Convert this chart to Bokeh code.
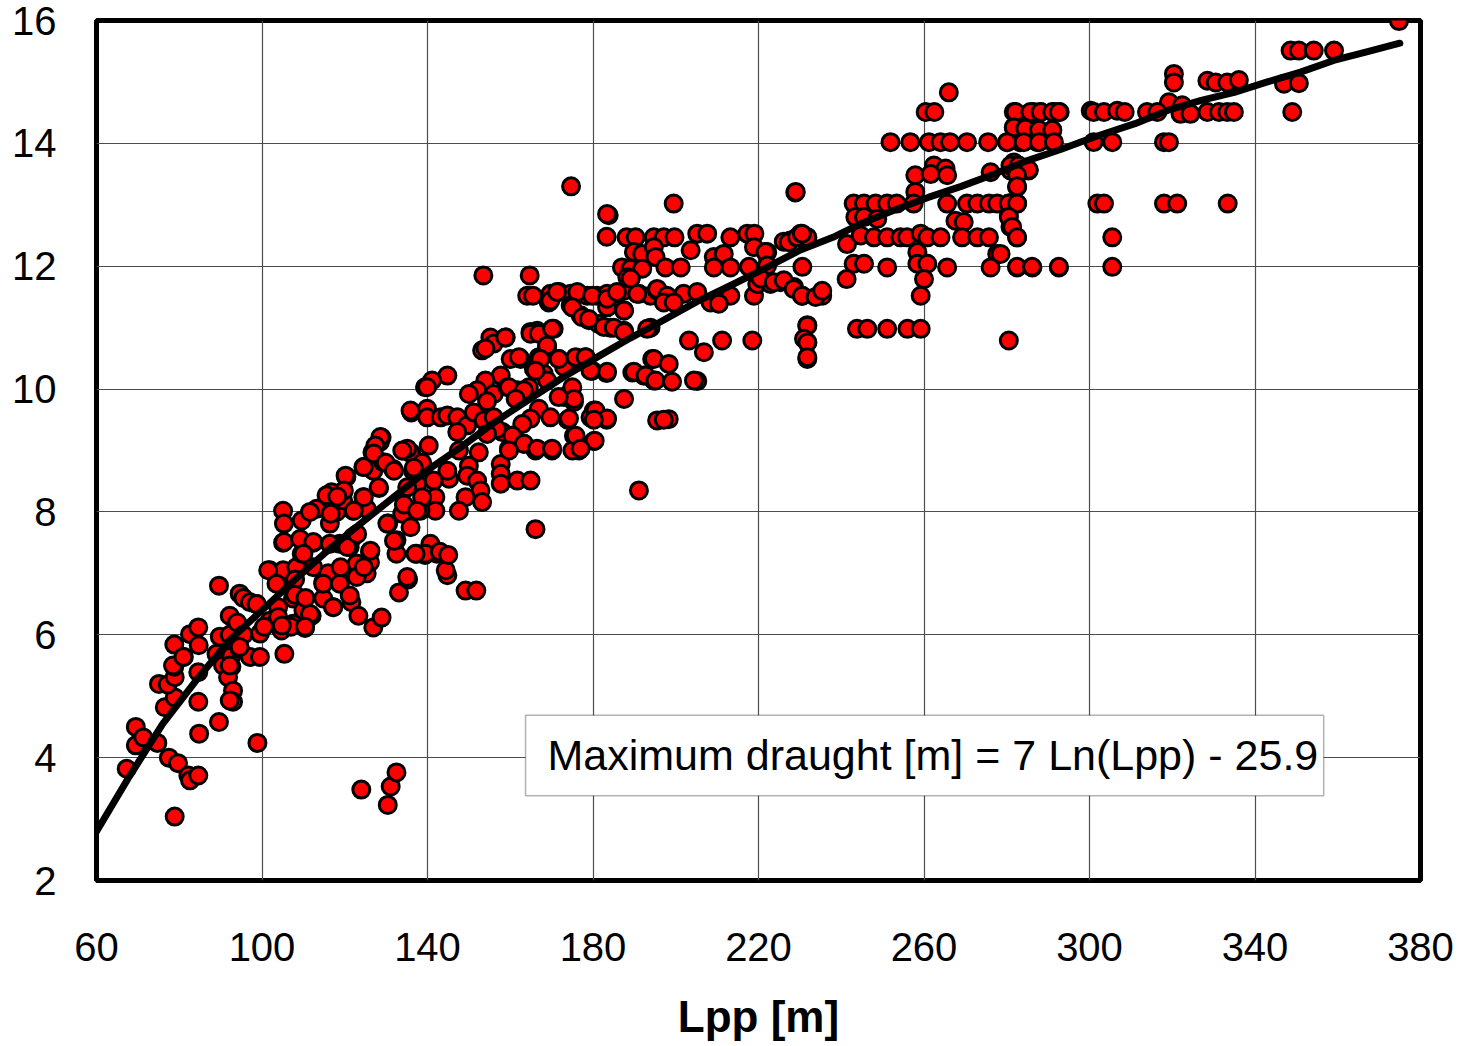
from bokeh.plotting import figure
from bokeh.models import Range1d, FixedTicker, Label, BoxAnnotation, ColumnDataSource
from bokeh.embed import file_html
from bokeh.resources import INLINE

# ---------------- data ----------------
x_ticks = [60, 100, 140, 180, 220, 260, 300, 340, 380]
y_ticks = [2, 4, 6, 8, 10, 12, 14, 16]
x_title = "Lpp [m]"
fit_text = "Maximum draught [m] = 7 Ln(Lpp) - 25.9"

# ships (Lpp [m], maximum draught [m]) grouped by region
ships_small = [
    (78.9, 3.04), (67.3, 3.82), (69.5, 4.5), (69.5, 4.2), (71.3, 4.33), (74.7, 4.24), (77.5, 4.0),
    (79.7, 3.91), (82.2, 3.71), (82.6, 3.63), (84.6, 3.71), (84.8, 4.39), (89.6, 4.58), (98.9, 4.24),
    (76.5, 4.82), (78.9, 4.98), (84.6, 4.91), (75.1, 5.2), (77.2, 5.19), (78.9, 5.31), (78.8, 5.48),
    (81.1, 5.64), (78.8, 5.84), (82.6, 6.01), (84.6, 6.12), (84.7, 5.83), (84.6, 5.39), (89.0, 5.69),
    (89.6, 6.80), (90.6, 5.5), (92.6, 5.48), (91.8, 5.31), (93.0, 5.09), (93.0, 4.91), (92.2, 4.93),
    (92.6, 5.66), (91.0, 5.93), (94.6, 5.77), (97.1, 5.64), (99.5, 5.64), (105.4, 5.69), (99.5, 6.02),
    (94.6, 6.67), (95.5, 6.6), (97.1, 6.53), (98.7, 6.5), (92.2, 6.31), (93.8, 6.18), (91.4, 5.91),
    (89.8, 5.97), (78.5, 5.5), (81.0, 5.64), (92.2, 6.0), (94.0, 6.2), (95.5, 6.0), (94.6, 5.8),
    (92.2, 5.5),
]
ships_low_outliers = [(124.0, 3.48), (130.4, 3.23), (131.1, 3.53), (132.5, 3.76)]
ships_100_140 = [
    (101.9, 6.23), (103.9, 6.45), (103.9, 6.29), (104.7, 6.07), (107.5, 6.18), (110.4, 6.11),
    (112.0, 6.31), (114.8, 6.59), (114.8, 6.86), (117.2, 6.45), (118.8, 6.86), (121.6, 6.53),
    (123.3, 6.31), (126.9, 6.12), (128.9, 6.28), (133.1, 6.69), (135.3, 6.9), (107.5, 6.59),
    (101.9, 7.05), (105.1, 7.05), (108.3, 7.1), (109.6, 7.32), (112.4, 7.1), (122.9, 7.16),
    (126.1, 7.35), (126.1, 7.18), (132.5, 7.32), (137.4, 7.32), (139.4, 7.3), (125.3, 7.0),
    (122.9, 6.94), (105.1, 7.5), (112.4, 7.5), (110.0, 6.4), (108.0, 6.9), (116.0, 7.0),
    (139.4, 10.03), (136.1, 9.62), (139.8, 9.6), (128.9, 9.21), (128.5, 9.14), (126.7, 8.97),
    (134.1, 9.0), (136.1, 8.95), (124.5, 8.73), (126.9, 8.67), (129.3, 8.81), (131.7, 8.70),
    (136.5, 8.67), (120.4, 8.57), (116.8, 8.32), (119.6, 8.32), (122.0, 8.02), (124.5, 8.24),
    (125.3, 8.05), (128.3, 8.39), (130.5, 7.81), (132.5, 7.54), (105.1, 8.02), (105.3, 7.81),
    (105.3, 7.51), (109.6, 7.86), (113.2, 8.05), (111.6, 8.0), (109.2, 7.56), (112.4, 7.51),
    (110.0, 7.32), (116.4, 7.81), (118.0, 8.0), (119.6, 8.19), (115.6, 8.27), (122.0, 7.59),
    (121.2, 7.43), (118.8, 7.48), (116.4, 7.48), (101.5, 7.05), (103.5, 6.83), (114.8, 6.83),
    (118.8, 6.83), (98.7, 6.5), (111.6, 6.34), (117.2, 6.45), (121.2, 6.64), (100.5, 6.13),
    (107.0, 6.13), (110.4, 6.13), (104.8, 6.15), (108.0, 6.65), (110.5, 6.6),
]
ships_115_200 = [
    (153.5, 11.85), (164.1, 11.52), (165.5, 11.52), (169.7, 11.55), (171.8, 11.58), (174.6, 11.55),
    (176.6, 11.55), (178.6, 11.52), (181.0, 11.52), (183.4, 11.55), (185.8, 11.55), (187.5, 11.6),
    (189.1, 11.8), (191.1, 11.55), (193.9, 11.52), (195.5, 11.6), (169.3, 11.41), (174.6, 11.36),
    (183.4, 11.33), (187.5, 11.28), (177.0, 11.2), (179.0, 11.12), (181.4, 11.06), (184.2, 11.0),
    (187.5, 10.95), (193.9, 11.0), (166.5, 10.95), (164.9, 10.93), (170.5, 10.98), (155.2, 10.84),
    (158.9, 10.84), (156.0, 10.74), (153.2, 10.63), (154.0, 10.66), (168.9, 10.68), (166.9, 10.52),
    (160.1, 10.49), (162.5, 10.49), (171.8, 10.49), (173.0, 10.36), (178.2, 10.52), (179.8, 10.3),
    (183.3, 10.26), (165.7, 10.33), (168.1, 10.25), (168.9, 10.14), (189.5, 10.27), (192.3, 10.22),
    (194.7, 10.14), (194.3, 10.49), (187.5, 9.84), (195.5, 9.49), (157.7, 10.22), (154.0, 10.14),
    (152.0, 9.98), (150.0, 9.92), (144.8, 10.22), (141.1, 10.14), (139.9, 10.03), (156.0, 9.92),
    (154.4, 9.8), (159.3, 10.03), (161.7, 9.98), (164.5, 10.03), (175.4, 9.79), (174.6, 9.95),
    (173.0, 9.87), (166.9, 9.68), (169.7, 9.54), (164.9, 9.52), (162.9, 9.43), (180.2, 9.65),
    (179.4, 9.54), (183.3, 9.5), (173.9, 9.5), (175.4, 9.24), (180.2, 9.15), (176.6, 9.0),
    (175.0, 9.0), (166.1, 9.0), (170.1, 9.0), (160.5, 9.24), (158.1, 9.3), (163.3, 9.11),
    (159.7, 9.03), (135.9, 9.65), (139.9, 9.68), (139.9, 9.54), (143.2, 9.54), (144.8, 9.57),
    (147.2, 9.54), (149.6, 9.41), (147.2, 9.3), (151.2, 9.62), (153.6, 9.49), (156.0, 9.54),
    (156.8, 9.35), (154.4, 9.27), (140.3, 9.08), (135.9, 8.97), (135.1, 9.03), (128.6, 9.22),
    (127.4, 9.08), (147.6, 9.0), (152.4, 8.97), (150.0, 8.75), (149.6, 8.59), (152.0, 8.51),
    (152.8, 8.35), (153.2, 8.16), (149.2, 8.24), (145.2, 8.54), (144.8, 8.67), (157.7, 8.78),
    (157.7, 8.62), (157.7, 8.46), (161.7, 8.51), (164.9, 8.51), (191.1, 8.35), (166.1, 7.72),
    (147.6, 8.02), (141.5, 8.51), (141.9, 8.24), (141.9, 8.02), (138.3, 8.02), (138.7, 8.8),
    (136.7, 8.72), (140.7, 7.48), (142.3, 7.32), (139.5, 7.32), (137.1, 7.32), (135.1, 6.94),
    (144.8, 6.97), (144.4, 7.05), (120.2, 8.59), (124.6, 8.73), (127.0, 8.95), (129.9, 8.8),
    (131.9, 8.67), (133.9, 9.0), (128.2, 8.4), (124.6, 8.24), (122.2, 8.02), (119.8, 8.35),
    (118.2, 8.25), (116.6, 7.97), (130.3, 7.81), (133.9, 7.97), (135.9, 7.75), (131.9, 7.53),
    (126.2, 7.37), (120.6, 7.43), (123.0, 7.64), (124.6, 7.1), (119.0, 7.1), (137.5, 8.45),
    (138.7, 8.24), (135.1, 8.4), (134.3, 8.12), (137.5, 8.02), (149.2, 6.72), (151.8, 6.72),
    (143.0, 7.35), (145.0, 7.3),
]
ships_155_240 = [
    (174.7, 13.3), (199.5, 13.02), (228.9, 13.2), (183.8, 12.83), (183.4, 12.85), (183.3, 12.48),
    (188.1, 12.47), (190.3, 12.47), (194.7, 12.47), (197.1, 12.47), (199.7, 12.47), (205.2, 12.53),
    (207.6, 12.53), (213.2, 12.47), (217.3, 12.53), (219.0, 12.53), (227.7, 12.42), (230.2, 12.53),
    (231.8, 12.47), (189.9, 12.23), (191.9, 12.2), (194.7, 12.31), (195.1, 12.15), (203.6, 12.26),
    (209.2, 12.15), (211.6, 12.2), (218.9, 12.31), (222.1, 12.23), (226.1, 12.4), (187.0, 11.98),
    (189.1, 11.96), (191.9, 11.96), (197.5, 11.98), (201.2, 11.98), (213.2, 11.98), (217.7, 11.99),
    (230.6, 11.99), (209.2, 11.98), (188.3, 11.82), (189.1, 11.8), (164.7, 11.85), (169.7, 11.44),
    (171.3, 11.58), (176.2, 11.58), (179.8, 11.52), (183.4, 11.47), (185.8, 11.58), (190.7, 11.55),
    (195.5, 11.63), (197.9, 11.52), (201.9, 11.55), (205.2, 11.58), (213.2, 11.52), (218.9, 11.52),
    (225.3, 11.74), (228.6, 11.66), (230.6, 11.52), (235.4, 11.52), (219.7, 11.71), (222.9, 11.71),
    (175.0, 11.33), (177.4, 11.17), (179.0, 11.14), (182.6, 11.01), (185.0, 11.0), (187.5, 10.93),
    (187.5, 11.28), (193.1, 10.98), (197.1, 11.41), (199.5, 11.41), (208.4, 11.41), (210.4, 11.39),
    (203.2, 10.79), (206.8, 10.6), (211.2, 10.79), (218.5, 10.79), (231.8, 11.04), (231.8, 10.76),
    (231.8, 10.49), (194.7, 10.49), (198.3, 10.41), (189.9, 10.28), (192.7, 10.22), (195.1, 10.14),
    (199.1, 10.12), (205.2, 10.13), (204.4, 10.14), (183.4, 10.28), (179.4, 10.3), (198.3, 9.51),
    (197.1, 9.5), (180.6, 9.65), (183.4, 9.52), (180.2, 9.5), (180.4, 9.16), (158.8, 10.84),
    (164.9, 10.9), (166.9, 10.9), (170.1, 10.98), (168.9, 10.71), (162.1, 10.52), (167.3, 10.49),
    (171.7, 10.49), (166.1, 10.3), (175.0, 10.03), (175.8, 10.52), (178.2, 10.52), (159.7, 10.03),
    (163.3, 9.98), (161.3, 9.84), (174.2, 9.52), (160.5, 9.24), (163.3, 9.11), (166.5, 9.03),
    (170.1, 9.03), (175.8, 9.24), (177.0, 9.03), (159.7, 9.0), (175.4, 9.84), (171.7, 9.87),
]
ships_220_300 = [
    (266.0, 14.83), (260.4, 14.51), (262.5, 14.51), (281.7, 14.51), (286.5, 14.51), (288.2, 14.51),
    (291.4, 14.51), (292.8, 14.51), (300.3, 14.53), (281.7, 14.26), (283.3, 14.24), (285.0, 14.26),
    (287.8, 14.21), (291.0, 14.21), (251.9, 14.02), (256.7, 14.02), (261.2, 14.02), (264.0, 14.02),
    (266.3, 14.02), (270.4, 14.02), (275.5, 14.02), (280.1, 14.02), (283.3, 14.02), (287.4, 14.02),
    (291.2, 14.02), (257.9, 13.48), (262.4, 13.64), (265.2, 13.59), (261.6, 13.5), (265.6, 13.48),
    (276.1, 13.53), (281.7, 13.69), (282.5, 13.56), (285.3, 13.56), (280.9, 13.56), (282.5, 13.29),
    (229.0, 13.21), (257.9, 13.21), (243.0, 13.02), (245.5, 13.02), (248.3, 13.02), (251.1, 13.02),
    (253.4, 13.02), (257.5, 13.02), (265.6, 13.02), (270.4, 13.02), (272.9, 13.02), (275.7, 13.02),
    (277.7, 13.02), (280.5, 13.02), (282.5, 13.02), (243.4, 12.8), (245.5, 12.8), (248.7, 12.77),
    (267.6, 12.74), (269.6, 12.72), (280.5, 12.83), (280.9, 12.64), (282.5, 12.47), (227.3, 12.39),
    (229.3, 12.47), (231.8, 12.47), (230.5, 12.53), (241.4, 12.36), (244.7, 12.5), (247.9, 12.47),
    (251.1, 12.47), (254.3, 12.47), (255.9, 12.47), (259.2, 12.53), (260.8, 12.47), (264.0, 12.47),
    (269.2, 12.47), (272.9, 12.47), (275.7, 12.47), (258.4, 12.23), (277.7, 12.2), (243.0, 12.04),
    (245.5, 12.04), (251.1, 11.98), (258.4, 12.04), (260.8, 12.04), (265.6, 11.98), (276.1, 11.98),
    (282.5, 11.98), (286.2, 11.98), (292.6, 11.98), (241.3, 11.79), (260.0, 11.79), (259.2, 11.52),
    (221.7, 12.23), (222.1, 12.01), (220.5, 11.8), (223.7, 11.74), (226.1, 11.77), (228.5, 11.63),
    (230.5, 11.52), (233.8, 11.5), (235.4, 11.6), (231.8, 11.03), (231.0, 10.82), (231.8, 10.76),
    (231.8, 10.52), (243.8, 10.98), (246.3, 10.98), (251.1, 10.98), (256.0, 10.98), (259.2, 10.98),
    (280.5, 10.79),
]
ships_large = [
    (374.8, 15.99), (348.6, 15.51), (350.6, 15.51), (354.2, 15.51), (359.1, 15.51), (347.0, 14.97),
    (350.6, 14.98), (349.0, 14.51), (320.4, 15.13), (320.4, 14.99), (328.5, 15.02), (330.5, 14.99),
    (333.3, 14.99), (336.1, 15.03), (319.2, 14.67), (322.4, 14.62), (282.1, 14.51), (285.7, 14.51),
    (288.2, 14.51), (291.0, 14.51), (292.6, 14.51), (301.0, 14.51), (303.5, 14.51), (306.7, 14.53),
    (308.5, 14.51), (313.9, 14.51), (316.4, 14.51), (322.0, 14.48), (324.4, 14.48), (328.5, 14.51),
    (331.3, 14.51), (333.3, 14.51), (334.9, 14.51), (281.7, 14.26), (284.5, 14.24), (287.8, 14.22),
    (291.0, 14.22), (280.1, 14.02), (284.1, 14.02), (287.8, 14.02), (291.4, 14.02), (301.0, 14.02),
    (305.5, 14.02), (318.0, 14.02), (319.2, 14.02), (280.9, 13.64), (282.9, 13.64), (285.3, 13.57),
    (282.5, 13.48), (282.5, 13.3), (280.5, 13.02), (282.5, 13.02), (301.9, 13.02), (303.5, 13.02),
    (318.0, 13.02), (321.2, 13.02), (333.4, 13.02), (280.5, 12.8), (281.3, 12.64), (282.5, 12.47),
    (305.5, 12.47), (282.5, 11.99), (286.1, 11.99), (292.6, 11.99), (305.5, 11.99), (278.5, 12.2),
]

# fitted trend line
curve_lpp = [60, 68, 76, 84, 92, 100, 108, 116, 124, 132, 140, 148, 156, 165, 173, 181, 189,
             197, 205, 214, 222, 230, 238, 245, 253, 261, 269, 277, 285, 293, 301, 311, 319,
             327, 335, 343, 351, 359, 367, 375]
curve_draught = [2.8, 3.7, 4.55, 5.25, 5.9, 6.4, 6.9, 7.38, 7.82, 8.25, 8.68, 9.05, 9.45, 9.85,
                 10.2, 10.52, 10.83, 11.12, 11.42, 11.71, 11.98, 12.26, 12.47, 12.7, 12.92, 13.12,
                 13.3, 13.5, 13.72, 13.9, 14.1, 14.32, 14.54, 14.7, 14.83, 15.0, 15.16, 15.35,
                 15.49, 15.63]

# ---------------- build ----------------
all_ships = (ships_small + ships_low_outliers + ships_100_140 + ships_115_200
             + ships_155_240 + ships_220_300 + ships_large)
src = ColumnDataSource(dict(lpp=[s[0] for s in all_ships], draught=[s[1] for s in all_ships]))

FONT = "Liberation Sans"

p = figure(frame_width=1324, frame_height=860,
           x_range=Range1d(60, 380), y_range=Range1d(2, 16),
           output_backend="svg", toolbar_location=None,
           min_border_left=96, min_border_right=41, min_border_top=20, min_border_bottom=166,
           background_fill_color="white", border_fill_color="white")

p.outline_line_color = "black"
p.outline_line_width = 5

p.xaxis.ticker = FixedTicker(ticks=x_ticks)
p.yaxis.ticker = FixedTicker(ticks=y_ticks)
for ax in (p.xaxis[0], p.yaxis[0]):
    ax.axis_line_color = None
    ax.major_tick_line_color = None
    ax.minor_tick_line_color = None
    ax.major_label_text_font = FONT
    ax.major_label_text_font_size = "40px"
    ax.major_label_text_color = "black"
p.yaxis.major_label_standoff = 34
p.xaxis.major_label_standoff = 46
p.xaxis.axis_label = x_title
p.xaxis.axis_label_text_font = FONT
p.xaxis.axis_label_text_font_size = "44px"
p.xaxis.axis_label_text_font_style = "bold"
p.xaxis.axis_label_text_color = "black"
p.xaxis.axis_label_standoff = 28

p.xgrid.grid_line_color = "#4d4d4d"
p.ygrid.grid_line_color = "#4d4d4d"
p.xgrid.grid_line_width = 1.2
p.ygrid.grid_line_width = 1.2

p.scatter("lpp", "draught", source=src, marker="circle", size=17,
          fill_color="red", line_color="black", line_width=3)
p.line(curve_lpp, curve_draught, line_width=7, line_color="black",
       line_cap="round", line_join="round")

box = BoxAnnotation(left=163.7, right=356.6, bottom=3.38, top=4.69,
                    fill_color="white", fill_alpha=1.0, line_color="black", line_width=1.5)
p.add_layout(box)
p.add_layout(Label(x=169.0, y=4.04, text=fit_text, text_font=FONT, text_font_size="43px",
                   text_baseline="middle", text_align="left", text_color="black"))

open("out.html", "w").write(file_html(p, INLINE))
